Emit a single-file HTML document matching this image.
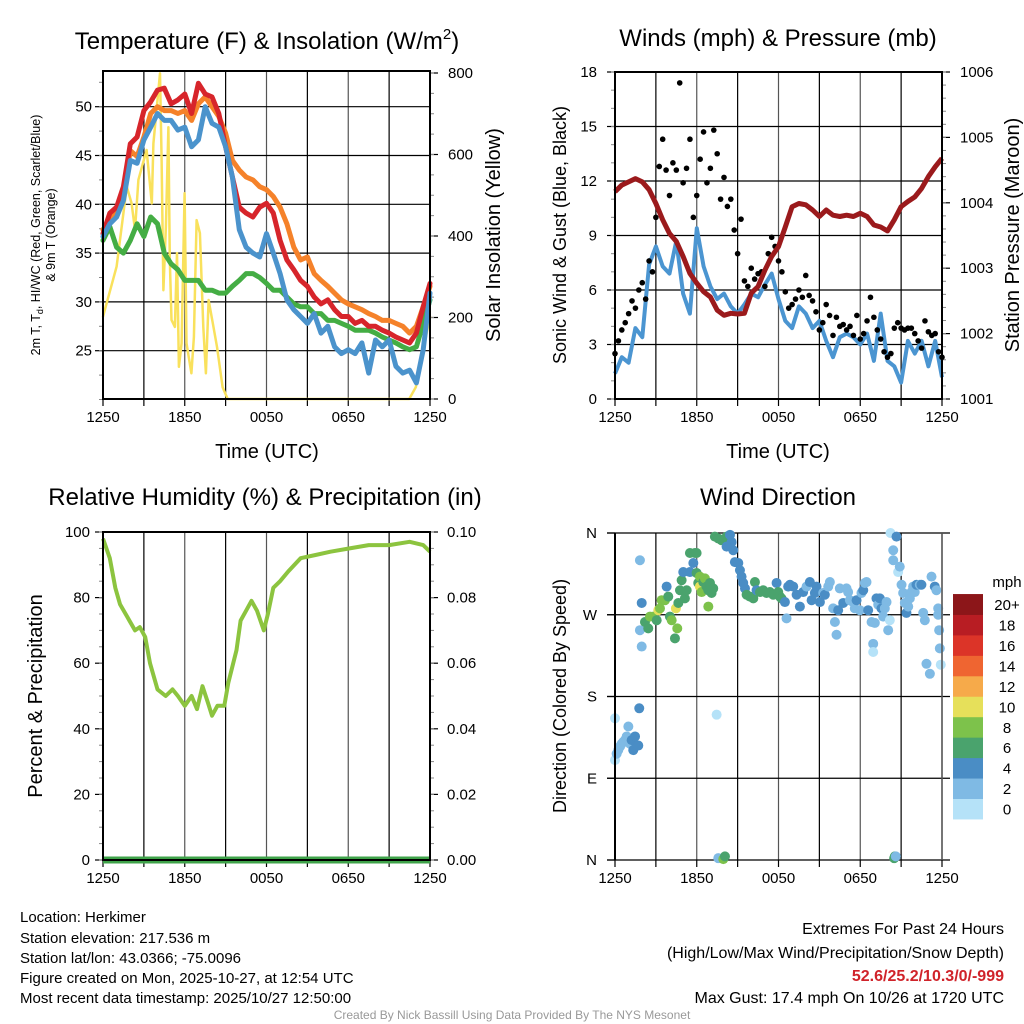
<!DOCTYPE html>
<html><head><meta charset="utf-8">
<style>
html,body{margin:0;padding:0;background:#fff;}
svg{display:block;font-family:"Liberation Sans",sans-serif;}
</style></head>
<body>
<svg id="chart" width="1024" height="1024" viewBox="0 0 1024 1024">
<g id="titles" fill="#000">
<text x="267" y="49" font-size="24" text-anchor="middle">Temperature (F) &amp; Insolation (W/m<tspan font-size="15" dy="-10">2</tspan><tspan dy="10">)</tspan></text>
<text x="778" y="46" font-size="24" text-anchor="middle">Winds (mph) &amp; Pressure (mb)</text>
<text x="265" y="505" font-size="24" text-anchor="middle">Relative Humidity (%) &amp; Precipitation (in)</text>
<text x="778" y="505" font-size="24" text-anchor="middle">Wind Direction</text>
<text x="267" y="458" font-size="20" text-anchor="middle">Time (UTC)</text>
<text x="778" y="458" font-size="20" text-anchor="middle">Time (UTC)</text>
<text transform="translate(40,235) rotate(-90)" font-size="12.5" text-anchor="middle">2m T, T<tspan font-size="9" dy="3">d</tspan><tspan dy="-3">, HI/WC (Red, Green, Scarlet/Blue)</tspan></text>
<text transform="translate(55,235) rotate(-90)" font-size="12.5" text-anchor="middle">&amp; 9m T (Orange)</text>
<text transform="translate(500,235) rotate(-90)" font-size="20" text-anchor="middle">Solar Insolation (Yellow)</text>
<text transform="translate(566,235) rotate(-90)" font-size="18" text-anchor="middle">Sonic Wind &amp; Gust (Blue, Black)</text>
<text transform="translate(1019,235) rotate(-90)" font-size="20" text-anchor="middle">Station Pressure (Maroon)</text>
<text transform="translate(42,696) rotate(-90)" font-size="20" text-anchor="middle">Percent &amp; Precipitation</text>
<text transform="translate(566,696) rotate(-90)" font-size="18" text-anchor="middle">Direction (Colored By Speed)</text>
</g>
<g id="panels"></g>
<g font-size="15" fill="#000">
<text x="20" y="922">Location: Herkimer</text>
<text x="20" y="943">Station elevation: 217.536 m</text>
<text x="20" y="963">Station lat/lon: 43.0366; -75.0096</text>
<text x="20" y="983">Figure created on Mon, 2025-10-27, at 12:54 UTC</text>
<text x="20" y="1003">Most recent data timestamp: 2025/10/27 12:50:00</text>
</g>
<g font-size="16" fill="#000" text-anchor="end">
<text x="1004" y="934">Extremes For Past 24 Hours</text>
<text x="1004" y="958">(High/Low/Max Wind/Precipitation/Snow Depth)</text>
<text x="1004" y="981" fill="#d0232a" font-weight="bold">52.6/25.2/10.3/0/-999</text>
<text x="1004" y="1003">Max Gust: 17.4 mph On 10/26 at 1720 UTC</text>
</g>
<text x="512" y="1019" font-size="12" fill="#999" text-anchor="middle">Created By Nick Bassill Using Data Provided By The NYS Mesonet</text>
</svg>
<script>
// ---- data ----
const halfHours = [0,0.5,1,1.5,2,2.5,3,3.5,4,4.5,5,5.5,6,6.5,7,7.5,8,8.5,9,9.5,10,10.5,11,11.5,12,12.5,13,13.5,14,14.5,15,15.5,16,16.5,17,17.5,18,18.5,19,19.5,20,20.5,21,21.5,22,22.5,23,23.5,24];
const temp2m = [37.0,39.1,39.7,41.8,46.2,46.9,49.6,50.5,51.7,51.9,50.3,50.7,51.3,49.3,52.4,51.3,51.0,49.3,45.9,42.8,39.7,39.1,38.7,39.7,40.1,39.1,36.3,34.3,33.3,32.2,31.6,30.5,29.8,30.2,29.2,28.5,28.5,27.8,28.1,27.5,27.5,27.1,26.8,26.4,26.1,25.8,26.8,29.5,31.9];
const temp9m = [37.4,38.4,39.1,41.1,45.5,44.9,46.9,49.3,50.0,49.6,49.6,49.3,49.6,48.6,50.3,51.0,50.0,49.0,47.3,44.5,43.5,42.8,42.5,41.8,41.5,40.8,39.7,38.0,35.6,34.3,34.6,32.9,32.2,31.6,30.9,30.2,29.8,29.5,29.2,28.8,28.5,28.1,28.1,27.8,27.5,26.8,27.5,29.5,31.6];
const heatIndexWindChill = [36.7,38.0,38.7,40.4,44.5,44.2,46.6,47.9,49.3,48.6,48.6,47.6,47.9,45.9,46.6,50.0,48.3,47.9,45.9,42.8,37.4,35.6,35.0,34.6,37.0,35.0,32.9,30.2,29.2,28.5,27.8,28.8,26.8,27.5,25.4,24.7,25.1,24.7,25.8,22.7,26.1,25.4,26.1,23.4,22.7,23.0,21.7,25.1,30.9];
const dewPoint = [36.3,37.7,35.6,35.0,36.3,38.0,36.7,38.7,38.0,35.0,33.9,33.3,32.2,32.2,32.2,31.2,31.2,30.9,30.9,31.6,32.2,32.9,32.9,32.5,31.9,31.2,31.2,30.5,29.8,29.5,29.5,28.8,28.8,28.1,28.1,27.8,27.5,27.1,27.1,27.1,26.8,26.4,26.1,25.8,25.4,25.1,25.4,27.8,30.2];
const solarHours = [0,1,1.75,2.1,2.35,2.6,3.2,3.58,3.7,4.18,4.3,4.43,4.62,4.8,4.9,5.03,5.28,5.43,5.57,5.77,5.99,6.13,6.49,6.67,6.87,7.11,7.36,7.55,7.75,8.06,8.37,8.78,9.15,12,16,21,22.47,22.96,23.45,24];
const solarValues = [202,325,521,480,415,538,611,480,627,799,587,267,423,667,341,194,177,358,79,137,505,137,63,152,439,407,177,63,243,186,128,29,0,0,0,0,0,29,112,202];
const windHours = halfHours;
const sustainedWind = [1.4,2.3,2.0,3.9,3.4,7.4,8.4,7.3,6.9,8.7,5.8,4.7,9.4,7.3,6.2,5.5,5.8,5.1,4.7,5.2,5.8,5.6,6.3,6.9,5.5,4.3,3.9,5.1,4.7,3.9,4.3,3.2,2.3,3.4,3.6,3.4,3.0,3.6,2.1,4.7,2.1,1.8,0.9,3.2,2.5,3.2,1.8,3.2,1.2];
const gustValues = [2.5,3.2,3.8,4.2,4.7,5.4,5.0,6.0,6.4,5.5,7.6,7.0,10.0,12.8,14.3,12.6,11.2,13.0,12.6,17.4,11.9,12.7,14.3,10.0,11.2,13.2,14.7,11.9,12.7,14.8,13.5,11.0,12.2,10.6,11.0,9.3,8.0,9.9,6.5,6.2,7.2,6.6,6.9,7.0,6.2,8.0,8.9,8.4,7.6,7.0,5.9,5.0,5.2,5.5,6.0,5.6,6.8,5.7,5.4,4.8,3.8,4.2,5.2,4.6,3.5,4.5,4.0,4.1,3.8,4.0,3.5,4.6,3.3,3.6,4.3,5.6,4.5,3.8,3.3,2.6,2.3,2.5,3.9,4.2,3.9,3.8,3.9,3.9,3.6,3.2,2.8,4.3,3.7,3.5,3.6,2.6,2.3];
const stationPressure = [1004.17,1004.27,1004.32,1004.37,1004.32,1004.20,1003.99,1003.74,1003.53,1003.41,1003.18,1002.92,1002.77,1002.64,1002.56,1002.36,1002.28,1002.31,1002.30,1002.31,1002.62,1002.72,1002.97,1003.18,1003.33,1003.63,1003.94,1003.99,1003.97,1003.89,1003.79,1003.89,1003.81,1003.79,1003.81,1003.79,1003.84,1003.79,1003.66,1003.63,1003.57,1003.74,1003.94,1004.02,1004.09,1004.22,1004.40,1004.55,1004.68];
const rhHours = [0,0.5,0.9,1.25,1.8,2.35,2.7,3.1,3.45,4,4.6,5.1,5.5,6,6.5,6.9,7.3,7.7,8,8.4,8.9,9.2,9.8,10.1,10.5,10.9,11.3,11.8,12.1,12.5,13,13.6,14.5,15.6,16.7,18.1,19.5,21,22.5,23.5,24];
const relHumidity = [98,92,83,78,74,70,71,68,60,52,50,52,50,47,50,46,53,48,44,47,47,54,64,73,76,79,76,70,75,83,85,88,92,93,94,95,96,96,97,96,94];
const precipHours = [0,24];
const precipValues = [0,0];
const dirHours = [0,0,0.12,0.24,0.37,0.49,0.61,0.73,0.86,0.98,1.1,1.22,1.34,1.47,1.59,1.71,1.78,1.83,1.96,1.83,1.96,2.2,2.44,2.57,2.81,3.06,3.18,3.3,3.42,3.67,3.79,3.91,4.03,4.16,4.4,4.47,4.57,4.65,4.77,4.89,5.01,5.13,5.26,5.5,5.5,5.75,5.87,5.99,5.99,6.11,6.23,6.23,6.36,6.48,6.6,6.72,6.85,6.97,7.09,7.21,6.85,7.33,7.58,7.82,8.07,8.19,8.31,8.44,8.56,8.19,8.68,8.8,9.05,9.17,9.29,9.41,9.54,9.66,9.9,10.15,10.27,10.39,10.64,10.88,11.12,11.37,11.61,11.86,11.98,12.1,12.22,12.47,12.59,12.71,12.84,13.08,13.33,13.57,13.81,14.06,14.3,14.43,14.67,14.79,15.04,15.28,15.4,15.65,15.77,16.01,16.14,16.26,16.38,16.5,16.75,16.99,17.11,17.24,17.48,17.6,17.73,17.97,18.09,18.22,18.34,18.46,18.58,18.83,18.95,18.95,19.07,19.19,19.32,19.44,19.56,19.68,19.8,19.93,20.05,20.17,20.22,20.42,20.42,20.66,20.78,20.9,21.03,21.15,21.27,21.39,21.52,21.64,21.76,21.88,22.0,22.13,22.37,22.49,22.62,22.74,22.86,23.11,23.23,23.47,23.59,23.72,23.72,23.79,23.84,23.91,7.46,7.58,7.95,8.07,20.49,20.54,20.61];
const dirDegrees = [156,110,117,121,125,128,130,132,136,147,128,132,121,136,126,126,167,330,283,253,235,262,255,268,268,264,275,277,286,286,301,290,268,264,244,277,255,283,297,308,317,288,297,317,338,327,338,338,316,305,312,301,295,306,310,301,297,305,294,299,279,356,354,352,353,356,352,358,350,345,341,328,327,319,312,305,299,292,290,288,306,297,295,297,294,295,292,305,295,290,288,284,266,301,303,301,292,279,295,301,306,286,294,301,284,294,292,301,306,277,262,248,275,299,283,299,295,286,284,277,286,275,294,297,305,306,275,262,238,229,261,288,281,288,277,268,277,284,253,264,360,341,330,356,317,323,303,294,283,272,279,288,295,301,295,303,303,303,272,264,216,205,312,301,297,277,270,253,233,215,160,2,1,4,2,4,4,7];
const dirSpeeds = [1,1,3,3,3,3,3,3,3,3,3,5,5,5,5,5,5,3,5,3,3,7,7,9,9,7,11,9,9,9,5,7,7,9,7,11,9,7,7,7,5,7,7,5,7,5,7,7,7,7,9,11,9,7,9,7,7,7,7,7,9,7,7,7,7,7,7,5,5,5,5,5,5,5,5,5,5,7,7,7,7,5,7,7,7,7,7,5,7,7,7,5,3,5,5,5,5,5,5,3,5,5,5,5,5,3,5,3,3,3,3,3,5,3,5,3,3,3,3,3,5,3,3,5,3,3,5,3,3,1,3,5,3,5,5,3,3,3,3,1,1,3,3,5,1,3,3,3,3,5,3,3,3,3,3,5,3,5,3,3,3,3,3,5,3,3,3,3,3,1,1,3,9,7,7,7,3,3,3];
const colorbarLabels = ["0","2","4","6","8","10","12","14","16","18","20+"];
const colorbarColors = ["#b5e2f8","#7fbae4","#4a8dc5","#4aa36d","#7dc24b","#e6e05a","#f6aa4a","#ef6531","#dc3428","#b81d23","#8c1619"];
const timeLabels = ["1250","1850","0050","0650","1250"];

// ---- helpers ----
const NS = "http://www.w3.org/2000/svg";
const root = document.getElementById("panels");
function mk(tag, attrs, parent){const e=document.createElementNS(NS,tag);for(const k in attrs)e.setAttribute(k,attrs[k]);(parent||root).appendChild(e);return e;}
function lin(d0,d1,r0,r1){return v=>r0+(v-d0)*(r1-r0)/(d1-d0);}
function pathD(xs,ys,fx,fy){return xs.map((x,i)=>(i?"L":"M")+fx(x).toFixed(1)+","+fy(ys[i]).toFixed(1)).join("");}

function frame(g,L,R,T,B){
  for(let i=0;i<=8;i++){
    const x=L+(R-L)*i/8;
    const ln=mk("line",{x1:x,x2:x,y1:T,y2:B,stroke:i%2?"#000":"#555","stroke-width":1.2},g);
    
    
    mk("line",{x1:x,x2:x,y1:B,y2:B+7,stroke:"#000","stroke-width":1.2},g);
  }
  timeLabels.forEach((t,i)=>{
    const tx=mk("text",{x:L+(R-L)*i/4,y:B+23,"font-size":15,"text-anchor":"middle"},g);
    tx.textContent=t;
    
    
  });
}
function yAxis(g,ticks,fy,x,side,labelX,fmt,minorStep,lo,hi,grid,L,R){
  ticks.forEach(v=>{
    const y=fy(v);
    mk("line",{x1:x,x2:x+(side<0?-8:8),y1:y,y2:y,stroke:"#000","stroke-width":1.2},g);
    if(grid){const gl=mk("line",{x1:L,x2:R,y1:y,y2:y,stroke:"#000","stroke-width":1.2},g);
      
      }
    const t=mk("text",{x:labelX,y:y+5,"font-size":15,"text-anchor":side<0?"end":"start"},g);
    t.textContent=fmt(v);
    
    
  });
  if(minorStep){for(let v=lo;v<=hi+1e-9;v+=minorStep){const y=fy(v);mk("line",{x1:x,x2:x+(side<0?-4:4),y1:y,y2:y,stroke:"#888","stroke-width":1},g);}}
}

// ---- Panel 1: temperature ----
(function(){
  const L=103,R=430,T=71,B=399;
  const g=mk("g",{});
  
  
  const fx=lin(0,24,L,R), fy=lin(25,50,350.7,106.7), fs=lin(0,800,399,73);
  frame(g,L,R,T,B);
  yAxis(g,[25,30,35,40,45,50],fy,L,-1,L-11,v=>v,2.5,20,52.5,true,L,R);
  yAxis(g,[0,200,400,600,800],fs,R,1,R+18,v=>v,50,0,800,false);
  const series=[[solarValues,"#f9e15c",2.5,"solar-insolation-line",solarHours,fs],
    [dewPoint,"#44ad44",5,"dewpoint-line",halfHours,fy],
    [temp9m,"#f5822a",5,"temp-9m-line",halfHours,fy],
    [temp2m,"#d7252b",5,"temp-2m-line",halfHours,fy],
    [heatIndexWindChill,"#4b93cc",5,"heat-index-wind-chill-line",halfHours,fy]];
  series.forEach(s=>{
    const p=mk("path",{d:pathD(s[4],s[0],fx,s[5]),fill:"none",stroke:s[1],"stroke-width":s[2],"stroke-linejoin":"round","stroke-linecap":"round"},g);
    
    
  });
  mk("rect",{x:L,y:T,width:R-L,height:B-T,fill:"none",stroke:"#000","stroke-width":2},g);
})();

// ---- Panel 2: winds & pressure ----
(function(){
  const L=615,R=942,T=72,B=399;
  const g=mk("g",{});
  
  
  const fx=lin(0,24,L,R), fw=lin(0,18,B,T), fp=lin(1001,1006,B,T);
  frame(g,L,R,T,B);
  yAxis(g,[0,3,6,9,12,15,18],fw,L,-1,L-18,v=>v,1,0,18,true,L,R);
  yAxis(g,[1001,1002,1003,1004,1005,1006],fp,R,1,R+18,v=>v,0.2,1001,1006,false);
  const wl=mk("path",{d:pathD(windHours,sustainedWind,fx,fw),fill:"none",stroke:"#4b95d1","stroke-width":4,"stroke-linejoin":"round"},g);
  
  
  gustValues.forEach((v,i)=>{
    const c=mk("circle",{cx:fx(i*24/(gustValues.length-1)),cy:fw(v),r:2.8,fill:"#000"},g);
    
    
  });
  const pl=mk("path",{d:pathD(windHours,stationPressure,fx,fp),fill:"none",stroke:"#9b1a1c","stroke-width":5,"stroke-linejoin":"round"},g);
  
  
  mk("rect",{x:L,y:T,width:R-L,height:B-T,fill:"none",stroke:"#000","stroke-width":2},g);
})();

// ---- Panel 3: humidity & precipitation ----
(function(){
  const L=103,R=430,T=532,B=860;
  const g=mk("g",{});
  
  
  const fx=lin(0,24,L,R), fr=lin(0,100,B,T), fpr=lin(0,0.1,B,T);
  frame(g,L,R,T,B);
  yAxis(g,[0,20,40,60,80,100],fr,L,-1,L-13,v=>v,5,0,100,false);
  yAxis(g,[0,0.02,0.04,0.06,0.08,0.1],fpr,R,1,R+17,v=>v.toFixed(2),0.005,0,0.1,false);
  const rl=mk("path",{d:pathD(rhHours,relHumidity,fx,fr),fill:"none",stroke:"#8cc43f","stroke-width":4,"stroke-linejoin":"round"},g);
  
  
  const pr=mk("path",{d:pathD(precipHours,precipValues,fx,fpr),fill:"none",stroke:"#3fa34a","stroke-width":7},g);
  
  
  mk("rect",{x:L,y:T,width:R-L,height:B-T,fill:"none",stroke:"#000","stroke-width":2},g);
})();

// ---- Panel 4: wind direction ----
(function(){
  const L=615,R=942,T=533,B=860;
  const g=mk("g",{});
  
  
  const fx=lin(0,24,L,R), fd=lin(0,360,B,T);
  frame(g,L,R,T,B);
  const names=["N","E","S","W","N"];
  yAxis(g,[0,90,180,270,360],fd,L,-1,L-18,v=>names[v/90],0,0,0,true,L-8,R+8);
  dirHours.forEach((h,i)=>{
    const bin=Math.min(10,Math.floor(dirSpeeds[i]/2));
    const c=mk("circle",{cx:fx(h),cy:fd(dirDegrees[i]),r:5,fill:colorbarColors[bin]},g);
    
    
  });
  mk("line",{x1:L,x2:L,y1:T,y2:B,stroke:"#000","stroke-width":2},g);
  mk("line",{x1:R,x2:R,y1:T,y2:B,stroke:"#555","stroke-width":1.5},g);
  const cb=mk("g",{},g);
  
  
  const t=mk("text",{x:1007,y:587,"font-size":15,"text-anchor":"middle"},cb);t.textContent="mph";
  colorbarLabels.forEach((lab,i)=>{
    const y=819-(i+1)*20.45;
    const r=mk("rect",{x:953,y:y,width:30,height:20.9,fill:colorbarColors[i]},cb);
    
    
    const tl=mk("text",{x:1007,y:y+16,"font-size":15,"text-anchor":"middle"},cb);
    tl.textContent=lab;
    
    
  });
})();
</script>
</body></html>
